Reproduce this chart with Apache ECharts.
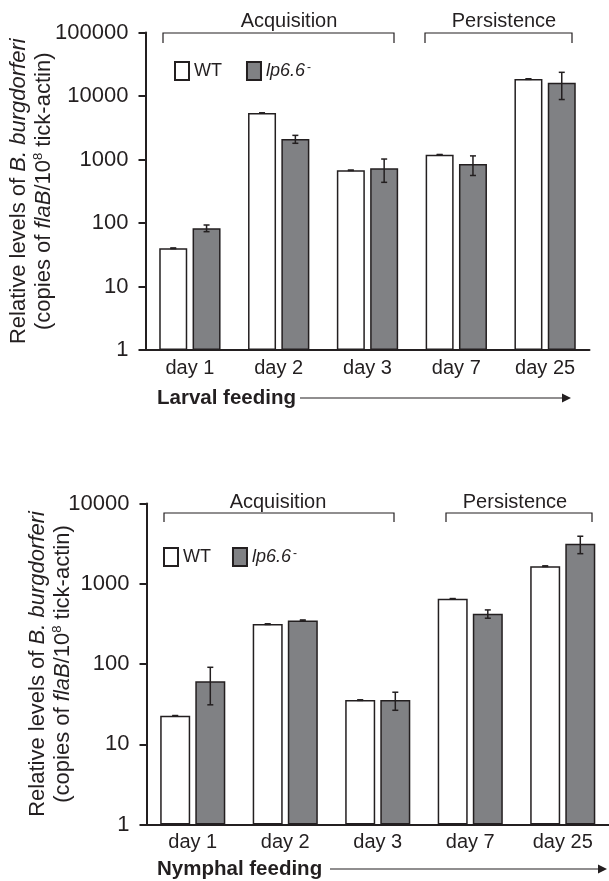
<!DOCTYPE html>
<html>
<head>
<meta charset="utf-8">
<script src="https://cdn.jsdelivr.net/npm/echarts@6/dist/echarts.min.js"></script>
<style>
  html, body { margin: 0; padding: 0; background: #fff; }
  #main { width: 609px; height: 881px; }
</style>
</head>
<body>
<div id="main"></div>
<script>
// ---- data ----
const categories = ['day 1', 'day 2', 'day 3', 'day 7', 'day 25'];
const larvalWT = [40, 5400, 676, 1190, 18500];
const larvalWTErr = [0.5, 30, 5, 10, 200];
const larvalLp = [83, 2100, 727, 850, 16200];
const larvalLpErr = [10, 300, 290, 290, 7400];
const nymphWT = [22.6, 314, 35.5, 649, 1656];
const nymphWTErr = [0.2, 3, 0.3, 5, 15];
const nymphLp = [61, 349, 35.5, 422, 3140];
const nymphLpErr = [30, 5, 9, 50, 770];
const yTicksTop = [1, 10, 100, 1000, 10000, 100000];
const yTicksBottom = [1, 10, 100, 1000, 10000];

const FONT = 'Liberation Sans, Arial, sans-serif';
const INK = '#231f20';
const GRAY = '#808184';

function errData(vals, errs) {
  return vals.map((v, i) => [i, Math.max(v - errs[i], 1.0001), v + errs[i]]);
}
function errRender(offset) {
  return function (params, api) {
    const x = api.value(0), lo = api.value(1), hi = api.value(2);
    const a = api.coord([x, hi]);
    const b = api.coord([x, lo]);
    const cx = a[0] + offset, w = 3;
    const st = { stroke: INK, lineWidth: 1.5 };
    return { type: 'group', children: [
      { type: 'line', shape: { x1: cx, y1: a[1], x2: cx, y2: b[1] }, style: st },
      { type: 'line', shape: { x1: cx - w, y1: a[1], x2: cx + w, y2: a[1] }, style: st },
      { type: 'line', shape: { x1: cx - w, y1: b[1], x2: cx + w, y2: b[1] }, style: st }
    ]};
  };
}

const titleRich = {
  n: { fontSize: 22, fontFamily: FONT, color: INK, lineHeight: 25 },
  i: { fontSize: 22, fontFamily: FONT, color: INK, fontStyle: 'italic', lineHeight: 25 },
  s: { fontSize: 13, fontFamily: FONT, color: INK, verticalAlign: 'top', lineHeight: 25 }
};
const yName = '{n|Relative levels of }{i|B. burgdorferi}\n{n|(copies of }{i|flaB}{n|/10}{s|8}{n| tick-actin)}';

function yAxis(gridIndex, max, ticks, gap) {
  return {
    type: 'log', logBase: 10, gridIndex, min: 1, max,
    name: yName, nameLocation: 'middle', nameRotate: 90, nameGap: gap, nameMoveOverlap: false,
    nameTextStyle: { rich: titleRich },
    axisLine: { show: true, lineStyle: { color: INK, width: 2 } },
    axisTick: { show: true, length: 7, lineStyle: { color: INK, width: 2 } },
    splitLine: { show: false },
    axisLabel: { fontSize: 22, fontFamily: FONT, color: INK, margin: 17,
      formatter: v => { const t = ticks.find(k => Math.abs(k - v) / k < 1e-6); return t !== undefined ? String(t) : ''; } }
  };
}
function xAxis(gridIndex) {
  return {
    type: 'category', gridIndex, data: categories,
    axisLine: { show: true, lineStyle: { color: INK, width: 2 } },
    axisTick: { show: false },
    axisLabel: { fontSize: 20, fontFamily: FONT, color: INK, margin: 8 }
  };
}
const legendRich = {
  n: { fontSize: 18, fontFamily: FONT, color: INK },
  i: { fontSize: 18, fontFamily: FONT, color: INK, fontStyle: 'italic' },
  s: { fontSize: 12, fontFamily: FONT, color: INK, verticalAlign: 'top', padding: [0, 0, 6, 2] }
};
function legend(left, top, gap) {
  return {
    left, top, padding: 0, orient: 'horizontal', icon: 'rect', itemWidth: 14, itemHeight: 18, itemGap: gap,
    data: ['WT', 'lp6.6-'],
    textStyle: { rich: legendRich },
    formatter: n => n === 'WT' ? '{n|WT}' : '{i|lp6.6}{s|-}'
  };
}

const topW = 28, topGap = 0.19, botW = 30, botGap = 0.17;
const barStyleWT = { color: '#ffffff', borderColor: INK, borderWidth: 1.5 };
const barStyleLp = { color: GRAY, borderColor: INK, borderWidth: 1.5 };

function txt(x, y, s, opt) {
  return { type: 'text', x, y, silent: true, style: Object.assign({ text: s, fontSize: 20, fontFamily: FONT, fill: INK, align: 'center', verticalAlign: 'middle' }, opt || {}) };
}
function bracket(x1, x2, yTop, yBot) {
  return { type: 'polyline', silent: true, shape: { points: [[x1, yBot], [x1, yTop], [x2, yTop], [x2, yBot]] }, style: { stroke: INK, lineWidth: 1.2, fill: null } };
}
function arrow(x1, x2, y) {
  return [
    { type: 'line', silent: true, shape: { x1, y1: y, x2: x2 - 8, y2: y }, style: { stroke: INK, lineWidth: 1.2 } },
    { type: 'polygon', silent: true, shape: { points: [[x2 - 9, y - 4.5], [x2, y], [x2 - 9, y + 4.5]] }, style: { fill: INK } }
  ];
}

const chart = echarts.init(document.getElementById('main'), null, { renderer: 'canvas' });
chart.setOption({
  animation: false,
  backgroundColor: '#ffffff',
  grid: [
    { left: 143.5, top: 32.5, width: 446, height: 317.5 },
    { left: 146.5, top: 503.5, width: 468, height: 321 }
  ],
  xAxis: [xAxis(0), xAxis(1)],
  yAxis: [yAxis(0, 100000, yTicksTop, 89), yAxis(1, 10000, yTicksBottom, 71)],
  legend: [legend(174, 61, 24), legend(163, 547, 21)],
  series: [
    { name: 'WT', type: 'bar', xAxisIndex: 0, yAxisIndex: 0, data: larvalWT, barWidth: topW, barGap: (topGap * 100) + '%', itemStyle: barStyleWT },
    { name: 'lp6.6-', type: 'bar', xAxisIndex: 0, yAxisIndex: 0, data: larvalLp, barWidth: topW, barGap: (topGap * 100) + '%', itemStyle: barStyleLp },
    { type: 'custom', xAxisIndex: 0, yAxisIndex: 0, z: 5, renderItem: errRender(-(topW * (1 + topGap)) / 2), data: errData(larvalWT, larvalWTErr) },
    { type: 'custom', xAxisIndex: 0, yAxisIndex: 0, z: 5, renderItem: errRender((topW * (1 + topGap)) / 2), data: errData(larvalLp, larvalLpErr) },
    { name: 'WT', type: 'bar', xAxisIndex: 1, yAxisIndex: 1, data: nymphWT, barWidth: botW, barGap: (botGap * 100) + '%', itemStyle: barStyleWT },
    { name: 'lp6.6-', type: 'bar', xAxisIndex: 1, yAxisIndex: 1, data: nymphLp, barWidth: botW, barGap: (botGap * 100) + '%', itemStyle: barStyleLp },
    { type: 'custom', xAxisIndex: 1, yAxisIndex: 1, z: 5, renderItem: errRender(-(botW * (1 + botGap)) / 2), data: errData(nymphWT, nymphWTErr) },
    { type: 'custom', xAxisIndex: 1, yAxisIndex: 1, z: 5, renderItem: errRender((botW * (1 + botGap)) / 2), data: errData(nymphLp, nymphLpErr) }
  ],
  graphic: [
    txt(289, 21, 'Acquisition'),
    bracket(163, 394, 33, 43),
    txt(504, 21, 'Persistence'),
    bracket(425, 572, 33, 43),
    txt(157, 398, 'Larval feeding', { align: 'left', fontWeight: 'bold', fontSize: 20.5 }),
    ...arrow(300, 571, 398),
    txt(278, 502, 'Acquisition'),
    bracket(164, 394, 513, 522),
    txt(515, 502, 'Persistence'),
    bracket(446, 592, 513, 522),
    txt(157, 869, 'Nymphal feeding', { align: 'left', fontWeight: 'bold', fontSize: 20.5 }),
    ...arrow(330, 607, 869)
  ]
});
</script>
</body>
</html>
